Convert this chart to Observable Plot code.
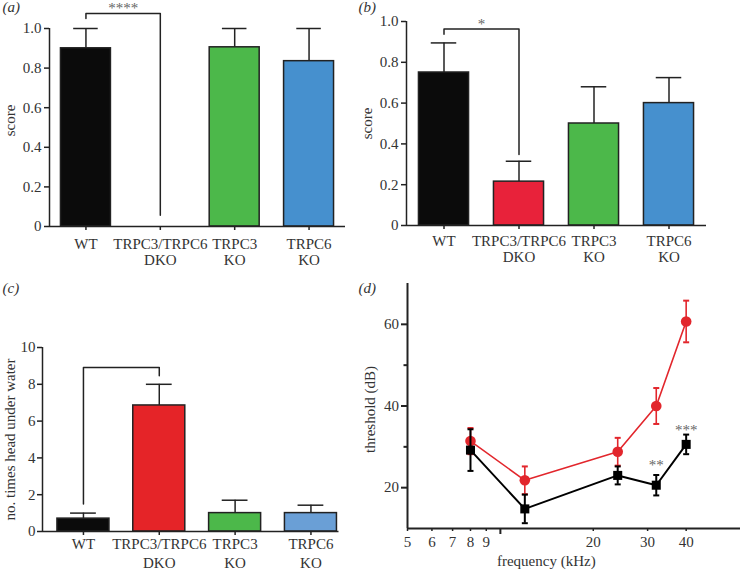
<!DOCTYPE html>
<html>
<head>
<meta charset="utf-8">
<script src="https://cdn.jsdelivr.net/npm/d3@7"></script>
<script src="https://cdn.jsdelivr.net/npm/@observablehq/plot@0.6"></script>
<style>
html, body { margin: 0; padding: 0; background: #fff; }
#fig { position: relative; width: 741px; height: 571px; overflow: hidden; background: #fff; }
#fig > svg { position: absolute; }
</style>
</head>
<body>
<div id="fig"></div>
<script>
// ---------------- data ----------------
const groups = ["WT", "TRPC3/TRPC6\nDKO", "TRPC3\nKO", "TRPC6\nKO"];

// (a) score
const scoreA = [0.90, 0, 0.905, 0.835];
const errA = [0.10, null, 0.095, 0.165];
// (b) score
const scoreB = [0.75, 0.215, 0.50, 0.60];
const errB = [0.145, 0.10, 0.18, 0.125];
// (c) no. times head under water
const timesC = [0.7, 6.85, 1.0, 1.0];
const errC = [0.3, 1.15, 0.7, 0.43];

const scoreTicks = [0, 0.2, 0.4, 0.6, 0.8, 1.0];
const timesTicks = [0, 2, 4, 6, 8, 10];

// (d) ABR threshold vs frequency
const freq = [8, 12, 24, 32, 40];
const dkoThreshold = [31.4, 21.8, 28.8, 40.0, 60.7];
const dkoErr = [3.2, 3.4, 3.4, 4.4, 5.1];
const wtThreshold = [29.2, 14.8, 23.0, 20.6, 30.6];
const wtErr = [5.1, 3.5, 2.2, 2.5, 2.4];
const freqTicks = [5, 6, 7, 8, 9, 20, 30, 40];
const freqMajorTicks = [10];
const thresholdTicks = [20, 40, 60];
const thresholdMinorTicks = [30, 50];

// significance annotations (data units)
const sigA = {from: 0, to: 1, top: 1.076, leftEnd: 1.05, rightEnd: 0.057, label: "****"};
const sigB = {from: 0, to: 1, top: 0.963, leftEnd: 0.938, rightEnd: 0.348, label: "*"};
const sigC = {from: 0, to: 1, top: 8.91, leftEnd: 1.5, rightEnd: 8.46, label: ""};
const sigD = [{f: 32, y: 24.4, label: "**"}, {f: 40, y: 33.0, label: "***"}];

// ---------------- styles ----------------
const FONT = "'Liberation Serif', 'Times New Roman', Times, serif";
const INK = "#222";
const TEXT = "#333";
const STAR = "#666";
const RED = "#e2262c";
const colorsAB = ["#0b0b0b", "#e8223a", "#4cb84a", "#4690ce"];
const colorsC = ["#0b0b0b", "#e52428", "#4cb84a", "#6a9fd6"];

const fig = document.getElementById("fig");
function mount(svg, left, top) {
  svg.style.position = "absolute";
  svg.style.left = left + "px";
  svg.style.top = top + "px";
  fig.appendChild(svg);
}
const baseStyle = {fontFamily: FONT, fontSize: "15px", background: "transparent", overflow: "visible", color: TEXT};

function barPanel(cfg) {
  const {values, errs, colors, sig, yTicks, yFormat, yDomain, xDomain, half, capHalf,
         m, width, height, yLabel, yLabelX, yLabelDy, panel, panelX, panelY, xTick, yTick} = cfg;
  const rows = groups.map((g, i) => ({i, g, v: values[i], e: errs[i], c: colors[i]}));
  const bars = rows.filter(d => d.v > 0);
  const eb = bars.filter(d => d.e != null);
  const bracket = [[sig.from, sig.leftEnd], [sig.from, sig.top], [sig.to, sig.top], [sig.to, sig.rightEnd]];
  return Plot.plot({
    width, height,
    marginLeft: m[0], marginRight: m[1], marginTop: m[2], marginBottom: m[3],
    style: baseStyle,
    x: {domain: xDomain, axis: null},
    y: {domain: yDomain, axis: null},
    marks: [
      Plot.ruleX(eb, {x: "i", y1: "v", y2: d => d.v + d.e, stroke: INK, strokeWidth: 1.5}),
      Plot.ruleY(eb, {y: d => d.v + d.e, x1: d => d.i - capHalf, x2: d => d.i + capHalf, stroke: INK, strokeWidth: 1.5}),
      Plot.rectY(bars, {x1: d => d.i - half, x2: d => d.i + half, y1: 0, y2: "v", fill: "c", stroke: INK, strokeWidth: 1.5}),
      Plot.line(bracket, {stroke: INK, strokeWidth: 1.5}),
      Plot.text([sig].filter(d => d.label), {x: d => (d.from + d.to) / 2, y: "top", text: "label", lineAnchor: "bottom", fill: STAR, fontSize: 15}),
      Plot.ruleY([yDomain[0]], {stroke: INK, strokeWidth: 1.5}),
      Plot.ruleX([xDomain[0]], {y1: yDomain[0], y2: yDomain[1], stroke: INK, strokeWidth: 1.5}),
      Plot.axisY({ticks: yTicks, tickFormat: yFormat, tickSize: yTick[0], tickPadding: yTick[1], label: null, stroke: INK, strokeWidth: 1.5, fill: TEXT, fontSize: 15}),
      Plot.axisX({ticks: [0, 1, 2, 3], tickFormat: i => groups[i], tickSize: xTick[0], tickPadding: xTick[1], lineHeight: xTick[2], label: null, stroke: INK, strokeWidth: 1.5, fill: TEXT, fontSize: 15}),
      Plot.text([yLabel], {text: d => d, frameAnchor: "left", textAnchor: "middle", lineAnchor: "middle", rotate: -90, dx: yLabelX - m[0], dy: yLabelDy, fill: TEXT, fontSize: 15}),
      Plot.text([panel], {text: d => d, frameAnchor: "top-left", textAnchor: "start", lineAnchor: "middle", dx: panelX - m[0], dy: panelY - m[2], fontStyle: "italic", fill: TEXT, fontSize: 15})
    ]
  });
}

const fmtScore = d => d === 0 ? "0" : d.toFixed(1);

// (a)
mount(barPanel({
  values: scoreA, errs: errA, colors: colorsAB, sig: sigA,
  yTicks: scoreTicks, yFormat: fmtScore, yDomain: [0, 1], xDomain: [-0.49, 3.49],
  half: 0.336, capHalf: 0.165,
  m: [49, 25, 28, 54], width: 370, height: 280,
  yLabel: "score", yLabelX: 10, yLabelDy: -7, panel: "(a)", panelX: 2, panelY: 7,
  xTick: [4, 6.3, 1.11], yTick: [5, 3]
}), 0, 0);

// (b)
mount(barPanel({
  values: scoreB, errs: errB, colors: colorsAB, sig: sigB,
  yTicks: scoreTicks, yFormat: fmtScore, yDomain: [0, 1], xDomain: [-0.5, 3.5],
  half: 0.334, capHalf: 0.17,
  m: [51, 35, 21, 55], width: 386, height: 280,
  yLabel: "score", yLabelX: 12, yLabelDy: 0, panel: "(b)", panelX: 3, panelY: 7,
  xTick: [4, 4.2, 1.11], yTick: [5, 3]
}), 355, 0);

// (c)
mount(barPanel({
  values: timesC, errs: errC, colors: colorsC, sig: sigC,
  yTicks: timesTicks, yFormat: d => String(d), yDomain: [0, 10], xDomain: [-0.54, 3.37],
  half: 0.343, capHalf: 0.17,
  m: [42, 31.5, 67, 40], width: 370, height: 291,
  yLabel: "no. times head under water", yLabelX: 10, yLabelDy: 0, panel: "(c)", panelX: 2, panelY: 8,
  xTick: [4, 0.5, 1.25], yTick: [5, 2]
}), 0, 280);

// (d)
const dkoRows = freq.map((f, i) => ({f, y: dkoThreshold[i], e: dkoErr[i]}));
const wtRows = freq.map((f, i) => ({f, y: wtThreshold[i], e: wtErr[i]}));
const capSymbol = {
  draw(ctx, size) {
    const w = Math.sqrt(size / Math.PI);
    ctx.moveTo(-w, 0);
    ctx.lineTo(w, 0);
  }
};
function series(rows, color, width, symbol, r) {
  return [
    Plot.line(rows, {x: "f", y: "y", stroke: color, strokeWidth: width}),
    Plot.ruleX(rows, {x: "f", y1: d => d.y - d.e, y2: d => d.y + d.e, stroke: color, strokeWidth: width}),
    Plot.dot(rows, {x: "f", y: d => d.y + d.e, symbol: capSymbol, r: 3, stroke: color, strokeWidth: 2, fill: "none"}),
    Plot.dot(rows, {x: "f", y: d => d.y - d.e, symbol: capSymbol, r: 3, stroke: color, strokeWidth: 2, fill: "none"}),
    Plot.dot(rows, {x: "f", y: "y", symbol, r, fill: color, stroke: "none"})
  ];
}
const mD = [52, 1, 3, 43];
mount(Plot.plot({
  width: 386, height: 291,
  marginLeft: mD[0], marginRight: mD[1], marginTop: mD[2], marginBottom: mD[3],
  style: baseStyle,
  x: {type: "log", domain: [5, 60], axis: null},
  y: {domain: [10, 70], axis: null},
  marks: [
    Plot.ruleX([5], {stroke: INK, strokeWidth: 2}),
    Plot.ruleY([10], {stroke: INK, strokeWidth: 2}),
    Plot.axisX({ticks: freqTicks, tickFormat: d => String(d), tickSize: 3, tickPadding: 4.5, label: null, stroke: INK, strokeWidth: 1.5, fill: TEXT, fontSize: 15}),
    Plot.axisX({ticks: freqMajorTicks, tickFormat: () => "", tickSize: 6, label: null, stroke: INK, strokeWidth: 2}),
    Plot.axisY({ticks: thresholdTicks, tickFormat: d => String(d), tickSize: 6, tickPadding: 2.5, label: null, stroke: INK, strokeWidth: 2, fill: TEXT, fontSize: 15}),
    Plot.axisY({ticks: thresholdMinorTicks, tickFormat: () => "", tickSize: 3.5, label: null, stroke: INK, strokeWidth: 2}),
    ...series(dkoRows, RED, 1.6, "circle", 5.3),
    ...series(wtRows, "#000", 2, "square", 5.1),
    Plot.text(sigD, {x: "f", y: "y", text: "label", lineAnchor: "bottom", fill: STAR, fontSize: 15}),
    Plot.text(["threshold (dB)"], {text: d => d, frameAnchor: "left", textAnchor: "middle", lineAnchor: "middle", rotate: -90, dx: 15 - mD[0], dy: 3.5, fill: TEXT, fontSize: 15}),
    Plot.text(["frequency (kHz)"], {text: d => d, frameAnchor: "bottom", textAnchor: "middle", lineAnchor: "bottom", dx: -27.7, dy: 37, fill: TEXT, fontSize: 15}),
    Plot.text(["(d)"], {text: d => d, frameAnchor: "top-left", textAnchor: "start", lineAnchor: "middle", dx: 3 - mD[0], dy: 8 - mD[2], fontStyle: "italic", fill: TEXT, fontSize: 15})
  ]
}), 355, 280);
</script>
</body>
</html>
